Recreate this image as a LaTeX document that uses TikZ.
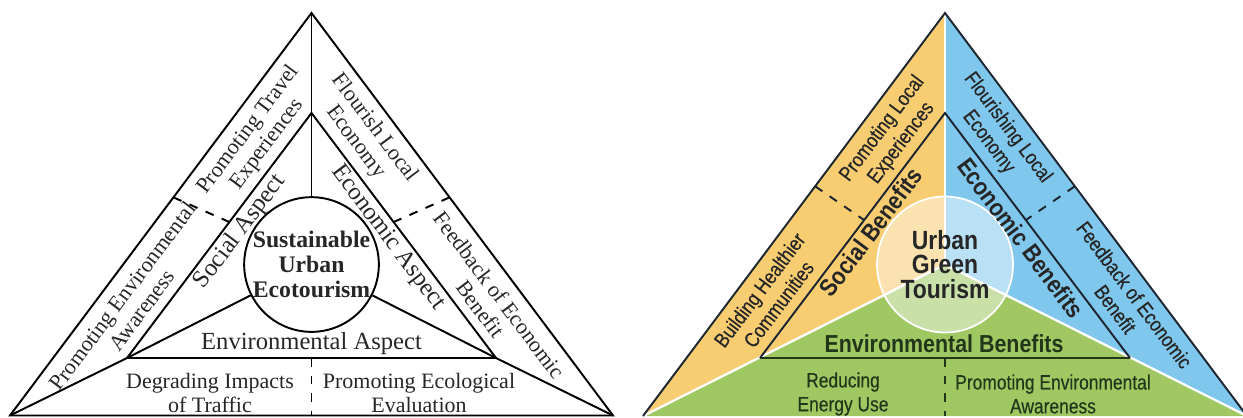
\documentclass[tikz,border=0pt]{standalone}
\usepackage{fontspec}
\setmainfont{Liberation Serif}
\newfontfamily\condsans[FakeStretch=0.87]{Liberation Sans}
\newfontfamily\condmed[FakeStretch=0.84,FakeBold=0.35]{Liberation Sans}
\usetikzlibrary{calc}
\definecolor{socialyellow}{HTML}{F8CD72}
\definecolor{econblue}{HTML}{80C7EE}
\definecolor{envgreen}{HTML}{9FC863}
\definecolor{darkline}{HTML}{1C2530}
\definecolor{greenline}{HTML}{22361A}
\definecolor{textgray}{HTML}{262626}
\tikzstyle{line}=[-, line width=1.1pt]
\tikzstyle{dashline}=[line, dash pattern=on 5pt off 5pt]
\tikzstyle{divider}=[-, white, line width=1.3pt]
\tikzstyle{aspect}=[text=textgray, inner sep=0pt,
		font=\fontsize{14}{15}\selectfont]
\tikzstyle{band}=[text=textgray, align=center, inner sep=0pt,
		font=\fontsize{12.5}{13.5}\selectfont]
\tikzstyle{hub}=[circle, draw, line width=1.1pt, minimum size=2.68cm,
		align=center, inner sep=0pt, text=textgray,
		font=\bfseries\fontsize{13.5}{14.2}\selectfont]
\tikzstyle{gaspect}=[inner sep=0pt, font=\condsans\bfseries\fontsize{14}{14}\selectfont]
\tikzstyle{gband}=[align=center, inner sep=0pt,
		font=\condmed\fontsize{11.8}{13.6}\selectfont]
\tikzstyle{ghub}=[circle, draw=white, line width=1pt, fill=white,
		fill opacity=0.45, text opacity=1, minimum size=2.72cm,
		align=center, inner sep=0pt, text=black!85,
		font=\condsans\bfseries\fontsize{15}{14}\selectfont]

\begin{document}
\begin{tikzpicture}[x=0.02cm,y=-0.02cm]
    \useasboundingbox (0,0) rectangle (1243,417);

    % left triangle
    \coordinate (LA) at (311.5,13);
    \coordinate (LL) at (10,415.5);
    \coordinate (LR) at (613,415.5);
    \coordinate (LIA) at (311.5,113);
    \coordinate (LIL) at (127,358);
    \coordinate (LIR) at (496,358);
    \coordinate (LC) at (311.5,264.5);

    \node (Lhub) [hub] at (LC) {Sustainable\\Urban\\Ecotourism};

    \draw[line] (LA) -- (LL) -- (LR) -- cycle;
    \draw[line] (LIA) -- (LIL) -- (LIR) -- cycle;
    \draw[line] (LA) -- (Lhub);
    \draw[line] (LL) -- (LIL) -- (Lhub);
    \draw[line] (LR) -- (LIR) -- (Lhub);

    \coordinate (LdashA) at ($(LA)!0.458!(LL)$);
    \coordinate (LdashB) at ($(LIA)!0.445!(LIL)$);
    \coordinate (LdashC) at ($(LA)!0.458!(LR)$);
    \coordinate (LdashD) at ($(LIA)!0.445!(LIR)$);
    \draw[dashline] (LdashA) -- (LdashB);
    \draw[dashline] (LdashC) -- (LdashD);
    \draw[dashline] (LIA |- LIL) -- (LA |- LL);

    \node (Lsocial) [aspect, rotate=53.1] at (240,232) {Social Aspect};
    \node (Leco) [aspect, rotate=-53.1] at (388,238) {Economic Aspect};
    \node (Lenv) [aspect] at (311.5,344) {Environmental Aspect};
    \node (Ltravel) [band, rotate=53.1] at (258,137) {Promoting Travel\\Experiences};
    \node (Laware) [band, rotate=53.1] at (132,303) {Promoting Environmental\\Awareness};
    \node (Llocal) [band, rotate=-53.1] at (365,135) {Flourish Local\\Economy};
    \node (Lfeed) [band, rotate=-53.1] at (490,302) {Feedback of Economic\\Benefit};
    \node (Ltraffic) [band] at (210,393) {Degrading Impacts\\of Traffic};
    \node (Leval) [band] at (419,393) {Promoting Ecological\\Evaluation};

    % right triangle
    \coordinate (RA) at (945,13);
    \coordinate (RL) at (643,416);
    \coordinate (RR) at (1247,416);
    \coordinate (RIA) at (945,113);
    \coordinate (RIL) at (760,358);
    \coordinate (RIR) at (1130,358);
    \coordinate (RC) at (945,264.5);

    \fill[socialyellow] (RA) -- (RL) -- (RC) -- cycle;
    \fill[econblue] (RA) -- (RR) -- (RC) -- cycle;
    \fill[envgreen] (RL) -- (RR) -- (RC) -- cycle;
    \draw[divider] (RC) -- (RA);
    \draw[divider] (RC) -- (RL);
    \draw[divider] (RC) -- (RR);

    \node (Rhub) [ghub] at (RC) {Urban\\Green\\Tourism};

    \draw[line, darkline] (RL) -- (RA) -- (RR);
    \draw[line, darkline] (RIL) -- (RIA) -- (RIR);
    \draw[line, greenline] (RIL) -- (RIR);

    \coordinate (RdashA) at ($(RA)!0.43!(RL)$);
    \coordinate (RdashB) at ($(RIA)!0.437!(RIL)$);
    \coordinate (RdashC) at ($(RA)!0.43!(RR)$);
    \coordinate (RdashD) at ($(RIA)!0.437!(RIR)$);
    \draw[dashline, darkline] (RdashA) -- (RdashB);
    \draw[dashline, darkline] (RdashC) -- (RdashD);
    \draw[dashline, greenline] (RIA |- RIL) -- (RA |- RL);

    \node (Rsocial) [gaspect, text=black!85, rotate=53.1] at (871,232) {Social Benefits};
    \node (Recon) [gaspect, text=black!85, rotate=-53.1] at (1021,238) {Economic Benefits};
    \node (Renv) [gaspect, text=greenline] at (944,344) {Environmental Benefits};
    \node (Rlocal) [gband, text=black!85, rotate=53.1] at (892,136) {Promoting Local\\Experiences};
    \node (Rhealth) [gband, text=black!85, rotate=53.1] at (769,297) {Building Healthier\\Communities};
    \node (Rflour) [gband, text=black!85, rotate=-53.1] at (998,135) {Flourishing Local\\Economy};
    \node (Rfeed) [gband, text=black!85, rotate=-53.1] at (1125,302) {Feedback of Economic\\Benefit};
    \node (Renergy) [gband, text=greenline] at (843,394) {Reducing\\Energy Use};
    \node (Raware) [gband, text=greenline] at (1053,394) {Promoting Environmental\\Awareness};
\end{tikzpicture}
\end{document}
